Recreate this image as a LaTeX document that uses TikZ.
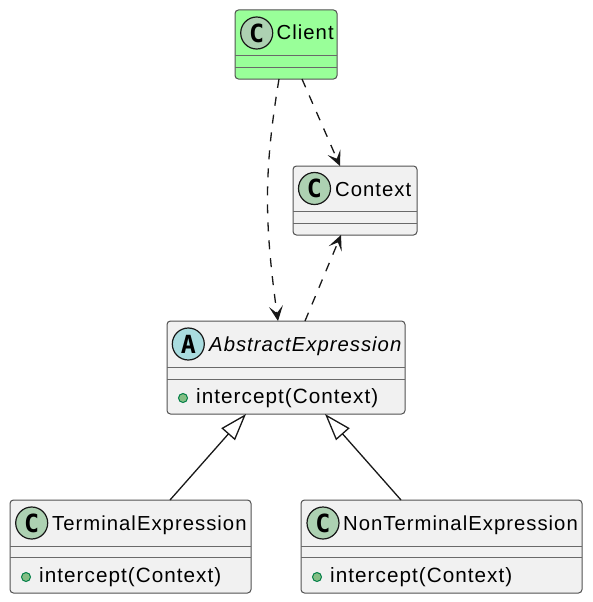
\documentclass[tikz,border=0pt]{standalone}
\usepackage{fontspec}
\setmainfont[LetterSpace=5]{Liberation Sans}
\newfontfamily\spotfont{DejaVu Sans Mono}
\usetikzlibrary{calc,arrows.meta}

\definecolor{boxfill}{HTML}{F1F1F1}
\definecolor{clientfill}{HTML}{99FF99}
\definecolor{classspot}{HTML}{ADD1B2}
\definecolor{abstractspot}{HTML}{A9DCDF}
\definecolor{dotfill}{HTML}{84BE84}
\definecolor{dotline}{HTML}{038048}
\definecolor{inkline}{HTML}{181818}

\tikzset{
	classbox/.style={draw=inkline!75,line width=1pt,rounded corners=3.5pt,fill=boxfill,inner sep=0pt,outer sep=0pt},
	spot/.style={circle,draw=inkline,line width=1.2pt,inner sep=0pt,minimum size=32pt,font=\spotfont\fontsize{25}{25}\selectfont\bfseries},
	classtitle/.style={anchor=base west,inner sep=0pt,font=\fontsize{20.3}{24}\selectfont},
	member/.style={anchor=base west,inner sep=0pt,font=\fontsize{20.7}{24}\selectfont},
	memberdot/.style={circle,draw=dotline,fill=dotfill,line width=1pt,inner sep=0pt,minimum size=9pt},
	divider/.style={draw=inkline!65,line width=1pt},
	uses/.style={draw=inkline,line width=1.3pt,dash pattern=on 9pt off 9pt,-{Stealth[length=15pt,width=14pt,inset=7pt]}},
	extends/.style={draw=inkline,line width=1.3pt,-{Triangle[open,fill=white,length=27pt,width=18pt]}},
}

\begin{document}
\begin{tikzpicture}[x=1pt,y=-1pt]
	\useasboundingbox (0,0) rectangle (592,602);
	% boxes
	\node[classbox,fill=clientfill,minimum width=102pt,minimum height=69pt] (client) at (286,44.5) {};
	\node[classbox,minimum width=124pt,minimum height=69pt] (context) at (355,200.5) {};
	\node[classbox,minimum width=238pt,minimum height=93pt] (abstract) at (286,367.5) {};
	\node[classbox,minimum width=241pt,minimum height=93pt] (terminal) at (130.5,546.5) {};
	\node[classbox,minimum width=281pt,minimum height=93pt] (nonterminal) at (441.5,546.5) {};
	% compartments
	\foreach \boxname/\first/\second in {client/46/57.5,context/45.5/57.5,abstract/46/58,terminal/46/57.5,nonterminal/46/57.5} {
		\draw[divider] ($(\boxname.north west)+(0,\first)$) -- ($(\boxname.north east)+(0,\first)$);
		\draw[divider] ($(\boxname.north west)+(0,\second)$) -- ($(\boxname.north east)+(0,\second)$);
	}
	% spots
	\node[spot,fill=classspot] (clientspot) at (256.7,33) {C};
	\node[spot,fill=classspot] (contextspot) at (314.5,188.5) {C};
	\node[spot,fill=abstractspot] (abstractspot) at (188.3,344) {A};
	\node[spot,fill=classspot] (terminalspot) at (31.7,523) {C};
	\node[spot,fill=classspot] (nonterminalspot) at (323,523) {C};
	% titles
	\node[classtitle] (clienttitle) at (276.5,40) {Client};
	\node[classtitle] (contexttitle) at (335,196) {Context};
	\node[classtitle] (abstracttitle) at (209,351) {\itshape AbstractExpression};
	\node[classtitle] (terminaltitle) at (52,530) {TerminalExpression};
	\node[classtitle] (nonterminaltitle) at (343,530) {NonTerminalExpression};
	% members
	\node[memberdot] (abstractdot) at (183,398) {};
	\node[member] (abstractmember) at (196,403) {intercept(Context)};
	\node[memberdot] (terminaldot) at (26,577) {};
	\node[member] (terminalmember) at (39,582) {intercept(Context)};
	\node[memberdot] (nonterminaldot) at (317,577) {};
	\node[member] (nonterminalmember) at (330,582) {intercept(Context)};
	% links
	\draw[uses] ($(client.south)+(-7,0)$) .. controls (264,170) and (264,220) .. ($(abstract.north)+(-8,0)$);
	\draw[uses] ($(client.south)+(16,0)$) -- ($(context.north)+(-15,0)$);
	\draw[uses] ($(abstract.north)+(19,0)$) -- ($(context.south)+(-14,0)$);
	\draw[extends] ($(terminal.north)+(39.5,0)$) -- ($(abstract.south)+(-40,0)$);
	\draw[extends] ($(nonterminal.north)+(-40.5,0)$) -- ($(abstract.south)+(39,0)$);
\end{tikzpicture}
\end{document}
